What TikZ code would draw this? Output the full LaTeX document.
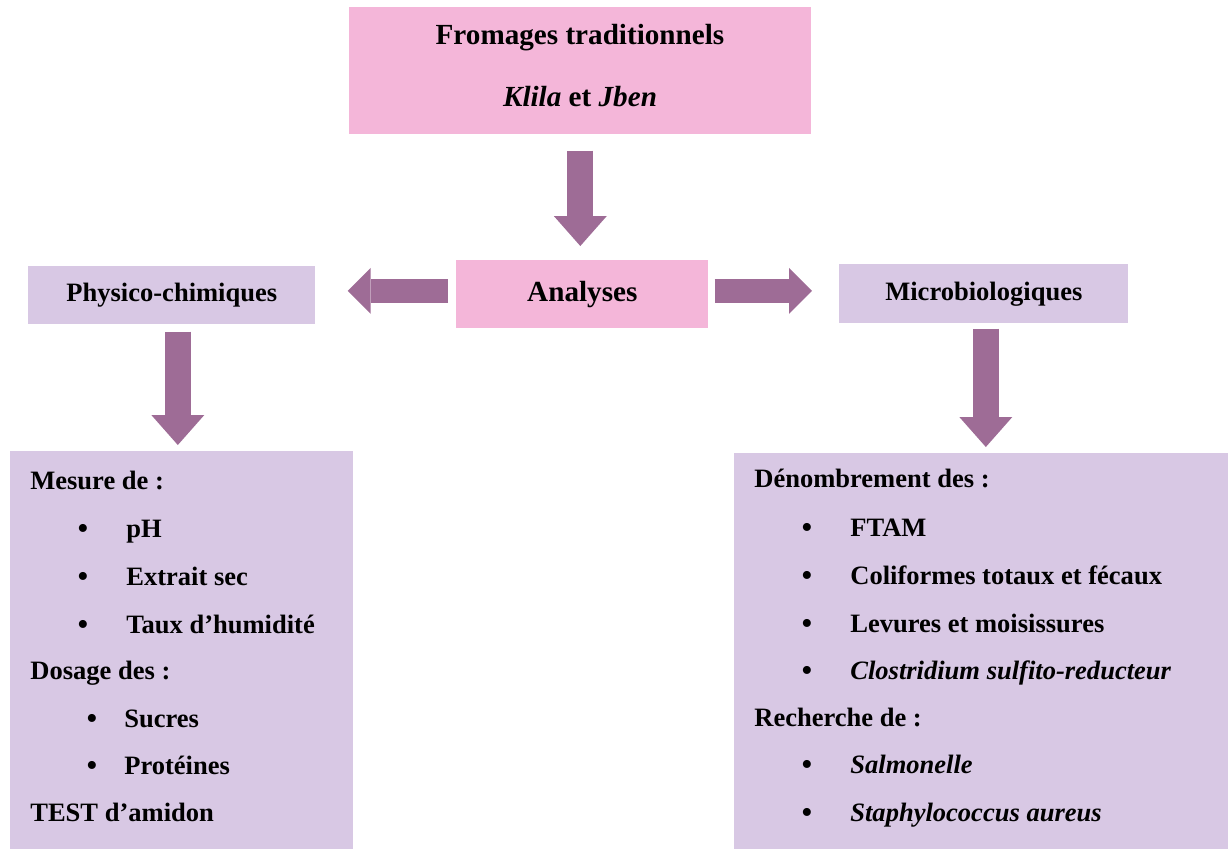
\documentclass[tikz,border=0pt]{standalone}
\usepackage{fontspec}
\setmainfont{Liberation Serif}
\usepackage{tikz}
\usetikzlibrary{arrows.meta,positioning,calc}
\definecolor{boxpink}{RGB}{244,182,217}
\definecolor{boxlilac}{RGB}{216,200,228}
\definecolor{arrowplum}{RGB}{158,108,150}
\tikzset{
  pinkbox/.style={fill=boxpink, inner sep=0pt, anchor=north west},
  lilacbox/.style={fill=boxlilac, inner sep=0pt, anchor=north west},
  titlefont/.style={font=\fontsize{16.6}{20}\selectfont\bfseries},
  listline/.style={anchor=base west, inner sep=0pt},
  bulletmark/.style={anchor=base, inner sep=0pt, yshift=-0.04cm,
    font=\fontsize{19}{20}\selectfont},
  downarrow/.style={draw=arrowplum, line width=0.52cm,
    -{Triangle[width=1.06cm, length=0.6cm, line width=0pt]}},
  sidearrow/.style={draw=arrowplum, line width=0.48cm,
    -{Triangle[width=0.92cm, length=0.46cm, line width=0pt]}}
}
\begin{document}
\begin{tikzpicture}[x=0.02cm, y=-0.02cm, font=\fontsize{15.1}{18}\selectfont\bfseries]
    \useasboundingbox (0,0) rectangle (1229,849);

    % boxes
    \node[pinkbox, minimum width=9.24cm, minimum height=2.54cm] (fromages) at (349,7) {};
    \node[titlefont, anchor=base] (titre) at (580,44) {Fromages traditionnels};
    \node[titlefont, anchor=base] (types) at (580,106) {\textit{Klila} et \textit{Jben}};

    \node[pinkbox, titlefont, minimum width=5.04cm, minimum height=1.36cm] (analyses) at (456,260) {Analyses};
    \node[lilacbox, minimum width=5.74cm, minimum height=1.16cm] (physico) at (28,266) {Physico-chimiques};
    \node[lilacbox, minimum width=5.78cm, minimum height=1.18cm] (micro) at (839,264) {Microbiologiques};

    \node[lilacbox, minimum width=6.86cm, minimum height=7.96cm] (gauche) at (10,451) {};
    \node[lilacbox, minimum width=9.88cm, minimum height=7.92cm] (droite) at (734,453) {};

    % arrows
    \draw[downarrow, shorten <=0.32cm, shorten >=0.28cm]
      (fromages.south) -- (fromages.south |- analyses.north);
    \draw[sidearrow, shorten <=0.16cm, shorten >=0.64cm]
      ([yshift=0.07cm]analyses.west) -- ([yshift=0.07cm]analyses.west -| physico.east);
    \draw[sidearrow, shorten <=0.12cm, shorten >=0.54cm]
      ([yshift=0.07cm]analyses.east) -- ([yshift=0.07cm]analyses.east -| micro.west);
    \draw[downarrow, shorten <=0.14cm, shorten >=0.12cm]
      ([xshift=0.12cm]physico.south) -- ([xshift=0.12cm]physico.south |- gauche.north);
    \draw[downarrow, shorten <=0.1cm, shorten >=0.12cm]
      ([xshift=0.04cm]micro.south) -- ([xshift=0.04cm]micro.south |- droite.north);

    % physico-chimiques list
    \node[listline] (mesure) at (30,489) {Mesure de :};
    \foreach \y/\t [count=\i] in {537/pH, 585/Extrait sec, 633/Taux d’humidité}{
      \node[bulletmark] (mb\i) at (83,\y) {\textbullet};
      \node[listline] (mi\i) at (126,\y) {\t};
    }
    \node[listline] (dosage) at (30,679) {Dosage des :};
    \foreach \y/\t [count=\i] in {727/Sucres, 774/Protéines}{
      \node[bulletmark] (db\i) at (92,\y) {\textbullet};
      \node[listline] (di\i) at (124,\y) {\t};
    }
    \node[listline] (amidon) at (30,821) {TEST d’amidon};

    % microbiologiques list
    \node[listline] (denomb) at (754,487) {Dénombrement des :};
    \foreach \y/\t [count=\i] in {536/FTAM, 584/Coliformes totaux et fécaux,
        632/Levures et moisissures, 679/\textit{Clostridium sulfito-reducteur}}{
      \node[bulletmark] (nb\i) at (807,\y) {\textbullet};
      \node[listline] (ni\i) at (850,\y) {\t};
    }
    \node[listline] (recherche) at (754,726) {Recherche de :};
    \foreach \y/\t [count=\i] in {773/\textit{Salmonelle}, 821/\textit{Staphylococcus aureus}}{
      \node[bulletmark] (rb\i) at (807,\y) {\textbullet};
      \node[listline] (ri\i) at (850,\y) {\t};
    }
\end{tikzpicture}
\end{document}
